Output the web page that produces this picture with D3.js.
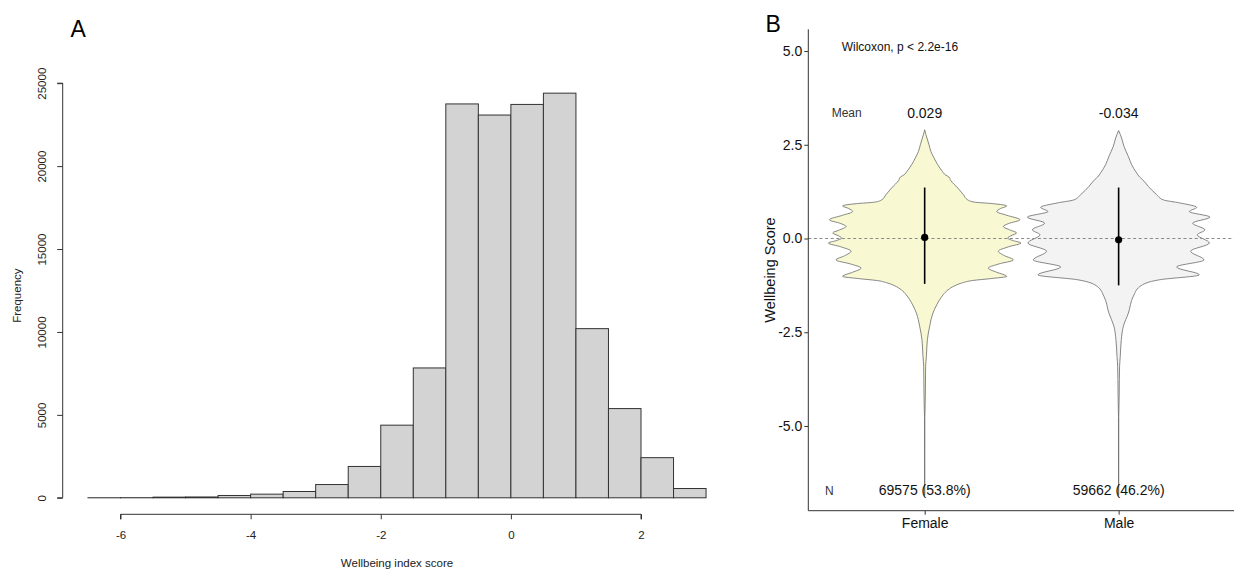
<!DOCTYPE html>
<html>
<head>
<meta charset="utf-8">
<script src="https://cdn.jsdelivr.net/npm/d3@7"></script>
<style>
  html, body { margin: 0; padding: 0; background: #fff; }
  svg { display: block; font-family: "Liberation Sans", Arial, sans-serif; }
</style>
</head>
<body>
<svg id="chart" width="1234" height="569"></svg>
<script>
// ---------- Panel A data: histogram of wellbeing index score ----------
const binEdges = [-6.5, -6, -5.5, -5, -4.5, -4, -3.5, -3, -2.5, -2, -1.5, -1, -0.5, 0, 0.5, 1, 1.5, 2, 2.5, 3];
const binCounts = [4, 7, 40, 50, 140, 220, 380, 800, 1890, 4380, 7830, 23750, 23080, 23720, 24400, 10200, 5380, 2420, 560];
const histXTicks = [-6, -4, -2, 0, 2];
const histYTicks = [0, 5000, 10000, 15000, 20000, 25000];

// ---------- Panel B data: violin of wellbeing score by sex ----------
const groups = ["Female", "Male"];
const groupMeans = [0.029, -0.034];
const groupMeanLabels = ["0.029", "-0.034"];
const groupN = ["69575 (53.8%)", "59662 (46.2%)"];
const groupRangeLow = [-1.21, -1.25];
const groupRangeHigh = [1.36, 1.36];
const violinYTicks = [-5, -2.5, 0, 2.5, 5];
// [score, relative density]
const femaleDensity = [
  [2.90, 0], [2.78, 0.012], [2.68, 0.024], [2.50, 0.045], [2.32, 0.065], [2.15, 0.097],
  [1.97, 0.135], [1.79, 0.184], [1.70, 0.213], [1.64, 0.252], [1.55, 0.27], [1.35, 0.343],
  [1.17, 0.402], [1.03, 0.447], [0.97, 0.519], [0.93, 0.706], [0.87, 0.852], [0.80, 0.789],
  [0.72, 0.748], [0.62, 0.852], [0.50, 0.99], [0.40, 0.872], [0.32, 0.817], [0.22, 0.893],
  [0.15, 0.955], [0.07, 0.893], [0.01, 0.862], [-0.06, 0.924], [-0.12, 1.0], [-0.22, 0.872],
  [-0.34, 0.765], [-0.46, 0.831], [-0.57, 0.921], [-0.68, 0.768], [-0.79, 0.661], [-0.90, 0.748],
  [-1.01, 0.852], [-1.07, 0.685], [-1.12, 0.498], [-1.18, 0.395], [-1.26, 0.312], [-1.37, 0.242],
  [-1.50, 0.192], [-1.63, 0.156], [-1.80, 0.119], [-1.99, 0.086], [-2.34, 0.052], [-2.70, 0.028],
  [-3.14, 0.018], [-3.41, 0.010], [-4.12, 0.007], [-4.57, 0.004], [-4.75, 0.0016], [-6.85, 0.001]
];
const maleDensity = [
  [2.88, 0], [2.68, 0.031], [2.46, 0.055], [2.19, 0.101], [1.97, 0.135], [1.75, 0.187],
  [1.64, 0.218], [1.57, 0.249], [1.39, 0.308], [1.17, 0.395], [1.03, 0.464], [0.95, 0.633],
  [0.83, 0.81], [0.72, 0.734], [0.57, 0.948], [0.41, 0.768], [0.23, 0.896], [0.10, 0.817],
  [-0.12, 0.942], [-0.34, 0.748], [-0.57, 0.886], [-0.76, 0.602], [-0.97, 0.838], [-1.10, 0.426],
  [-1.28, 0.221], [-1.54, 0.153], [-1.99, 0.101], [-2.34, 0.049], [-2.70, 0.028], [-3.14, 0.017],
  [-3.41, 0.010], [-4.12, 0.006], [-4.57, 0.003], [-4.75, 0.0016], [-6.85, 0.001]
];
const densities = [femaleDensity, maleDensity];
const violinFills = ["#f8f8d2", "#f3f3f3"];

const svg = d3.select("#chart");
const FONT = "'Liberation Sans', Arial, sans-serif";
const hyphen = s => String(s).replace(/\u2212/g, "-");

// ================= Panel A =================
const xA = d3.scaleLinear().domain([-6, 2]).range([120.5, 641]);
const yA = d3.scaleLinear().domain([0, 25000]).range([497.8, 83.2]);
const gA = svg.append("g");

const bins = binCounts.map((c, i) => ({ x0: binEdges[i], x1: binEdges[i + 1], count: c }));
gA.selectAll("rect.bar").data(bins).join("rect")
  .attr("class", "bar")
  .attr("x", d => xA(d.x0))
  .attr("width", d => xA(d.x1) - xA(d.x0))
  .attr("y", d => yA(d.count))
  .attr("height", d => yA(0) - yA(d.count))
  .attr("fill", "#d3d3d3")
  .attr("stroke", "#333")
  .attr("stroke-width", 1);

// x axis (R-style, offset below plot)
const xAxisA = d3.axisBottom(xA).tickValues(histXTicks).tickSize(5).tickPadding(12)
  .tickFormat(d => hyphen(d3.format("d")(d)));
const gxA = gA.append("g").attr("transform", "translate(0,514.3)").call(xAxisA);
gxA.select(".domain").attr("stroke", "#333").attr("d", `M${xA(-6)},5V0H${xA(2)}V5`);
gxA.selectAll(".tick line").attr("stroke", "#333");
gxA.selectAll(".tick text").attr("fill", "#222").style("font-size", "11.5px").style("font-family", FONT);

// y axis
const yAxisA = d3.axisLeft(yA).tickValues(histYTicks).tickSize(5.5).tickFormat(d3.format("d"));
const gyA = gA.append("g").attr("transform", "translate(62.7,0)").call(yAxisA);
gyA.select(".domain").attr("stroke", "#333").attr("d", `M-5.5,${yA(0)}H0V${yA(25000)}H-5.5`);
gyA.selectAll(".tick line").attr("stroke", "#333");
gyA.selectAll(".tick text")
  .attr("fill", "#222").style("font-size", "11.5px").style("font-family", FONT)
  .attr("text-anchor", "middle").attr("x", null).attr("dy", null)
  .attr("transform", "translate(-16.5,0) rotate(-90)");

gA.append("text").attr("x", 397).attr("y", 566.5).attr("text-anchor", "middle")
  .style("font-size", "11.5px").attr("fill", "#222").text("Wellbeing index score");
gA.append("text").attr("transform", "translate(21,295.6) rotate(-90)").attr("text-anchor", "middle")
  .style("font-size", "11.5px").attr("fill", "#222").text("Frequency");
gA.append("text").attr("x", 70.5).attr("y", 36.5).style("font-size", "23px").attr("fill", "#000").text("A");

// ================= Panel B =================
const pLeft = 808.3, pRight = 1235, pTop = 29.3, pBottom = 510.7;
const xB = d3.scalePoint().domain(groups).range([pLeft, pRight]).padding(0.6);
const yB = d3.scaleLinear().domain([-7.26, 5.58]).range([pBottom, pTop]);
const wB = d3.scaleLinear().domain([0, 1]).range([0, 96.3]);
const gB = svg.append("g");

// violins
groups.forEach((g, i) => {
  const cx = xB(g);
  const area = d3.area()
    .y(d => yB(d[0]))
    .x0(d => cx - wB(d[1]))
    .x1(d => cx + wB(d[1]))
    .curve(d3.curveMonotoneY);
  gB.append("path").datum(densities[i])
    .attr("d", area)
    .attr("fill", violinFills[i])
    .attr("stroke", "#6a6a6a")
    .attr("stroke-width", 0.8);
});

// dashed reference line at 0
gB.append("line")
  .attr("x1", pLeft).attr("x2", pRight).attr("y1", yB(0)).attr("y2", yB(0))
  .attr("stroke", "#8a8a8a").attr("stroke-width", 1.2).attr("stroke-dasharray", "3,2.6");

// point ranges
groups.forEach((g, i) => {
  const cx = xB(g);
  gB.append("line").attr("x1", cx).attr("x2", cx)
    .attr("y1", yB(groupRangeHigh[i])).attr("y2", yB(groupRangeLow[i]))
    .attr("stroke", "#000").attr("stroke-width", 1.6);
  gB.append("circle").attr("cx", cx).attr("cy", yB(groupMeans[i])).attr("r", 3.6).attr("fill", "#000");
});

// axes
const yAxisB = d3.axisLeft(yB).tickValues(violinYTicks).tickSize(4).tickPadding(2)
  .tickFormat(d => hyphen(d3.format(".1f")(d)));
const gyB = gB.append("g").attr("transform", `translate(${pLeft},0)`).call(yAxisB);
gyB.select(".domain").attr("stroke", "#333").attr("d", `M0,${pTop}V${pBottom}`);
gyB.selectAll(".tick line").attr("stroke", "#333");
gyB.selectAll(".tick text").attr("fill", "#111").style("font-size", "14px").style("font-family", FONT);

const xAxisB = d3.axisBottom(xB).tickSize(4).tickPadding(3);
const gxB = gB.append("g").attr("transform", `translate(0,${pBottom})`).call(xAxisB);
gxB.select(".domain").attr("stroke", "#333").attr("d", `M${pLeft},0H${pRight}`);
gxB.selectAll(".tick line").attr("stroke", "#333");
gxB.selectAll(".tick text").attr("fill", "#111").style("font-size", "14px").style("font-family", FONT);

gB.append("text").attr("transform", "translate(774.5,270) rotate(-90)").attr("text-anchor", "middle")
  .style("font-size", "14.5px").attr("fill", "#111").text("Wellbeing Score");

// annotations
gB.append("text").attr("x", 841.7).attr("y", yB(5.1)).attr("dy", "0.35em")
  .style("font-size", "12px").attr("fill", "#111").text("Wilcoxon, p < 2.2e-16");
gB.append("text").attr("x", 831.7).attr("y", yB(3.35)).attr("dy", "0.35em")
  .style("font-size", "12px").attr("fill", "#333").text("Mean");
gB.append("text").attr("x", 825).attr("y", yB(-6.72)).attr("dy", "0.35em")
  .style("font-size", "12px").attr("fill", "#333").text("N");
groups.forEach((g, i) => {
  gB.append("text").attr("x", xB(g)).attr("y", yB(3.35)).attr("dy", "0.35em").attr("text-anchor", "middle")
    .style("font-size", "14px").attr("fill", "#111").text(groupMeanLabels[i]);
  gB.append("text").attr("x", xB(g)).attr("y", yB(-6.72)).attr("dy", "0.35em").attr("text-anchor", "middle")
    .style("font-size", "14px").attr("fill", "#111").text(groupN[i]);
});

gB.append("text").attr("x", 765.5).attr("y", 32.3).style("font-size", "23px").attr("fill", "#000").text("B");
</script>
</body>
</html>
